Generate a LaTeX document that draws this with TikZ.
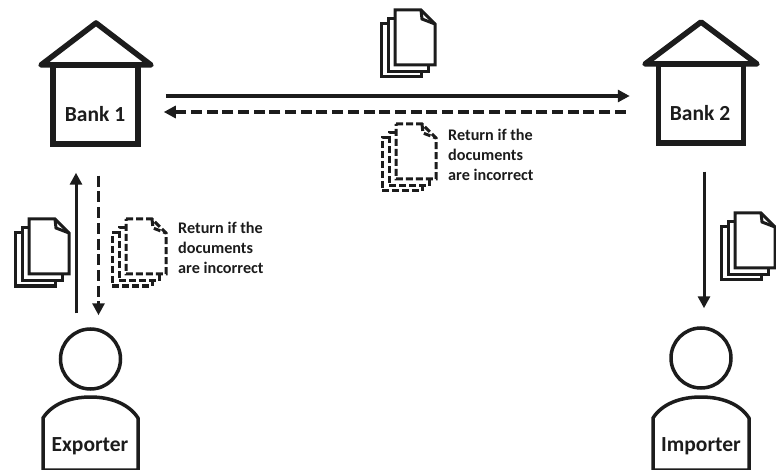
\documentclass[tikz,border=0pt]{standalone}
\usepackage{fontspec}
\setmainfont{Carlito}
\usetikzlibrary{arrows.meta}
\definecolor{ink}{HTML}{1C1C1C}
\def\fpage{-- ++(26,0) -- ++(14,14) -- ++(0,41) -- ++(-40,0) -- cycle}
\def\ffold{++(26,0) -- ++(1,9) -- ++(13,5)}
\def\mpage{-- ++(-7,0) -- ++(0,53) -- ++(40,0) -- ++(0,-7)}
\def\dsolid{\draw[docline]}
\def\ddash{\draw[docline,docdash]}
\newcommand{\docstack}[3]{
    #1 (#2,#3) \fpage;
    #1 (#2,#3) \ffold;
    #1 (#2,#3+9) \mpage;
    #1 (#2-7,#3+14) \mpage;
}
\tikzset{
    bankbox/.style={draw=ink,line width=5.5pt,minimum width=85pt,minimum height=79pt,inner sep=0pt},
    roofline/.style={draw=ink,line width=5.5pt,line join=round,line cap=round},
    headline/.style={draw=ink,circle,line width=3.5pt,minimum size=60pt,inner sep=0pt},
    bodyline/.style={draw=ink,line width=3.5pt,line join=round},
    docline/.style={draw=ink,line width=3pt,line join=miter},
    docdash/.style={dash pattern=on 7pt off 3pt},
    flowthick/.style={draw=ink,line width=3.5pt,-{Triangle[length=12pt,width=12pt]}},
    flowthin/.style={draw=ink,line width=3pt,-{Triangle[length=12pt,width=12pt]}},
    flowdash/.style={dash pattern=on 11pt off 4.7pt},
    bankname/.style={text=ink,font=\fontsize{21.5}{24}\selectfont\bfseries},
    notetext/.style={text=ink,align=left,anchor=west,inner sep=0pt,font=\fontsize{16.2}{20}\selectfont\bfseries},
}

\begin{document}
\begin{tikzpicture}[x=1pt,y=-1pt]
    \useasboundingbox (0,0) rectangle (776,470);

    \node[bankbox] (bankone) at (95.5,104.5) {};
    \node[bankbox] (banktwo) at (701,103.5) {};
    \draw[roofline] (41,65) -- (96,23) -- (151,65) -- cycle;
    \draw[roofline] (645,64) -- (701,22) -- (757,64) -- cycle;
    \node[bankname] (bankonename) at (95,114) {Bank 1};
    \node[bankname] (banktwoname) at (700,113) {Bank 2};

    \node[headline] (exphead) at (90.5,359) {};
    \node[headline] (imphead) at (701,358) {};
    \draw[bodyline] (43,470) -- (43,418) .. controls (52,404) and (70,397) .. (90.5,397)
        .. controls (111,397) and (129,404) .. (138,418) -- (138,470) -- cycle;
    \draw[bodyline] (653,470) -- (653,418) .. controls (662,404) and (680,397) .. (701,397)
        .. controls (722,397) and (740,404) .. (749,418) -- (749,470) -- cycle;
    \node[bankname] (expname) at (90,446) {Exporter};
    \node[bankname] (impname) at (701,446) {Importer};

    \draw[flowthick] ([shift={(25,-8.5)}]bankone.east) -- ([shift={(-26,-7.5)}]banktwo.west);
    \draw[flowthick,flowdash] ([shift={(-30,8.5)}]banktwo.west) -- ([shift={(23,7.5)}]bankone.east);
    \draw[flowthin] ([shift={(-14.5,-14)}]exphead.north) -- ([shift={(-19.5,26)}]bankone.south);
    \draw[flowthin,flowdash] ([shift={(3,29)}]bankone.south) -- ([shift={(8,-12)}]exphead.north);
    \draw[flowthin] ([shift={(3,26)}]banktwo.south) -- ([shift={(3,-18)}]imphead.north);

    \docstack{\dsolid}{395}{10}
    \docstack{\dsolid}{29}{219}
    \docstack{\dsolid}{735}{213}
    \docstack{\ddash}{396}{124}
    \docstack{\ddash}{126}{219}

    \node[notetext] (noteone) at (178,248) {Return if the\\documents\\are incorrect};
    \node[notetext] (notetwo) at (448,155) {Return if the\\documents\\are incorrect};
\end{tikzpicture}
\end{document}
